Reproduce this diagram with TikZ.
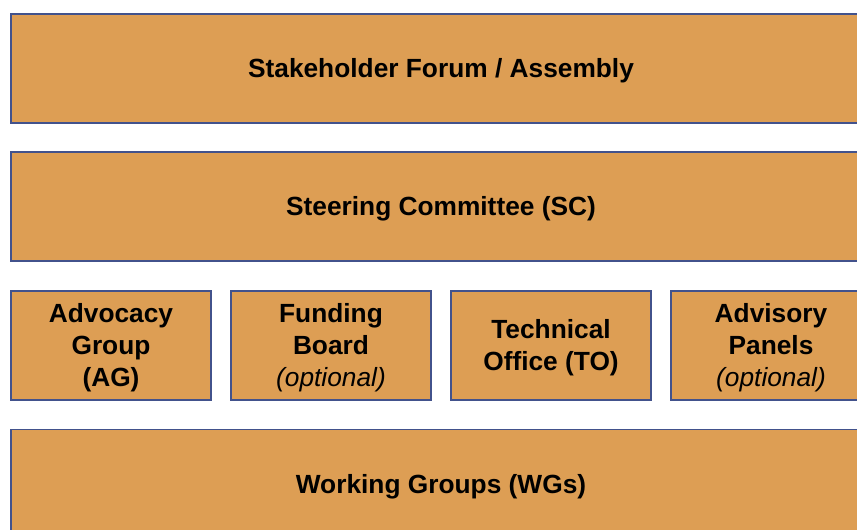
\documentclass[tikz,border=0pt]{standalone}
\usepackage{fontspec}
\setmainfont{Liberation Sans}
\definecolor{boxfill}{RGB}{221,158,84}
\definecolor{boxline}{RGB}{66,82,140}
\begin{document}
\begin{tikzpicture}[x=1pt,y=-1pt,
  orgbox/.style={draw=boxline,fill=boxfill,line width=1.3pt,inner sep=0pt,minimum height=109pt},
  wide/.style={orgbox,minimum width=860pt},
  narrow/.style={orgbox,minimum width=200pt},
  boxtext/.style={inner sep=0pt,align=center,font=\fontsize{26.3}{32}\selectfont\bfseries}]
\useasboundingbox (0,0) rectangle (857,530);
\clip (0,0) rectangle (857,530);
\node[wide] (forum) at (441,68.5) {};
\node[wide] (sc) at (441,206.5) {};
\node[narrow] (ag) at (111,345.5) {};
\node[narrow] (fb) at (331,345.5) {};
\node[narrow] (to) at (551,345.5) {};
\node[narrow] (ap) at (771,345.5) {};
\node[wide] (wg) at (441,484) {};
\node[boxtext] (forumt) at ([yshift=-2.5pt]forum.center) {Stakeholder Forum / Assembly};
\node[boxtext] (sct) at ([yshift=-2.5pt]sc.center) {Steering Committee (SC)};
\node[boxtext] (agt) at ([yshift=-2.5pt]ag.center) {Advocacy\\Group\\(AG)};
\node[boxtext] (fbt) at ([yshift=-2.5pt]fb.center) {Funding\\Board\\{\mdseries\itshape (optional)}};
\node[boxtext] (tot) at ([yshift=-2.5pt]to.center) {Technical\\Office (TO)};
\node[boxtext] (apt) at ([yshift=-2.5pt]ap.center) {Advisory\\Panels\\{\mdseries\itshape (optional)}};
\node[boxtext] (wgt) at ([yshift=-2.5pt]wg.center) {Working Groups (WGs)};
\end{tikzpicture}
\end{document}
